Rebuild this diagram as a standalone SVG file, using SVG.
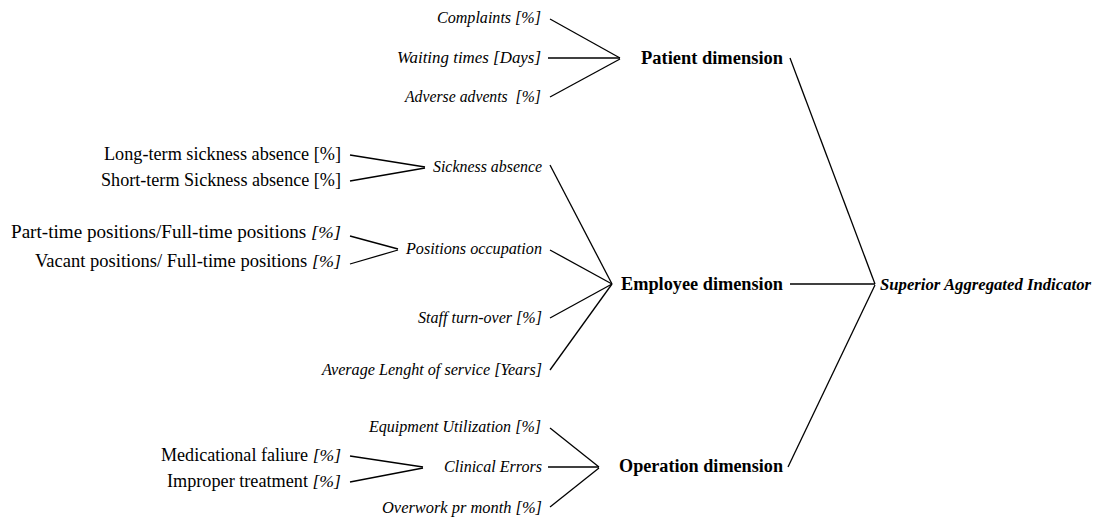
<svg xmlns="http://www.w3.org/2000/svg" width="1099" height="521" viewBox="0 0 1099 521" font-family="'Liberation Serif', 'Times New Roman', 'DejaVu Serif', serif">
<style>
text{font-family:'Liberation Serif','Times New Roman','DejaVu Serif',serif;fill:#000}
.r{font-size:18px}
.i{font-size:17.5px;font-style:italic}
.b{font-size:18.5px;font-weight:bold}
.bi{font-size:16.8px;font-weight:bold;font-style:italic}
.e{text-anchor:end}
.c line{stroke:#000;stroke-width:1.3}
</style>
<rect width="1099" height="521" fill="#fff"/>
<g id="connectors" class="c">
<line x1="550" y1="19" x2="620" y2="58"/>
<line x1="548" y1="58" x2="620" y2="58"/>
<line x1="550" y1="97" x2="620" y2="59"/>
<line x1="350" y1="155" x2="425" y2="167"/>
<line x1="350" y1="181" x2="425" y2="168"/>
<line x1="350" y1="236" x2="398" y2="249"/>
<line x1="350" y1="264" x2="398" y2="250"/>
<line x1="550" y1="165" x2="612" y2="284"/>
<line x1="550" y1="250" x2="612" y2="284"/>
<line x1="550" y1="318" x2="612" y2="284"/>
<line x1="550" y1="370" x2="612" y2="284"/>
<line x1="350" y1="456" x2="423" y2="467"/>
<line x1="350" y1="482" x2="423" y2="468"/>
<line x1="550" y1="428" x2="599" y2="467"/>
<line x1="548" y1="467" x2="599" y2="467"/>
<line x1="550" y1="507" x2="599" y2="468"/>
<line x1="790" y1="58" x2="875" y2="284"/>
<line x1="790" y1="284" x2="875" y2="284"/>
<line x1="788" y1="467" x2="875" y2="285"/>
</g>
<g id="complaints"><text class="i e" x="541" y="23" textLength="104" lengthAdjust="spacingAndGlyphs">Complaints [%]</text></g>
<g id="waiting"><text class="i e" x="541" y="63" textLength="144" lengthAdjust="spacingAndGlyphs">Waiting times [Days]</text></g>
<g id="adverse"><text class="i e" x="541" y="102" xml:space="preserve" textLength="136" lengthAdjust="spacingAndGlyphs">Adverse advents  [%]</text></g>
<g id="patient"><text class="b" x="641" y="64" textLength="142" lengthAdjust="spacingAndGlyphs">Patient dimension</text></g>
<g id="longterm"><text class="r e" x="341" y="160" textLength="237" lengthAdjust="spacingAndGlyphs">Long-term sickness absence [%]</text></g>
<g id="shortterm"><text class="r e" x="341" y="186" textLength="240" lengthAdjust="spacingAndGlyphs">Short-term Sickness absence [%]</text></g>
<g id="sickness"><text class="i e" x="542" y="172" textLength="109" lengthAdjust="spacingAndGlyphs">Sickness absence</text></g>
<g id="parttime"><text class="r e" x="341" y="238" textLength="330" lengthAdjust="spacingAndGlyphs">Part-time positions/Full-time positions <tspan class="i">[%]</tspan></text></g>
<g id="vacant"><text class="r e" x="341" y="267" textLength="306" lengthAdjust="spacingAndGlyphs">Vacant positions/ Full-time positions <tspan class="i">[%]</tspan></text></g>
<g id="positions"><text class="i e" x="542" y="254" textLength="136" lengthAdjust="spacingAndGlyphs">Positions occupation</text></g>
<g id="staff"><text class="i e" x="542" y="323" textLength="124" lengthAdjust="spacingAndGlyphs">Staff turn-over [%]</text></g>
<g id="average"><text class="i e" x="542" y="375" textLength="220" lengthAdjust="spacingAndGlyphs">Average Lenght of service [Years]</text></g>
<g id="employee"><text class="b" x="621" y="290" textLength="162" lengthAdjust="spacingAndGlyphs">Employee dimension</text></g>
<g id="sai"><text class="bi" x="880" y="290" textLength="211" lengthAdjust="spacingAndGlyphs">Superior Aggregated Indicator</text></g>
<g id="equipment"><text class="i e" x="541" y="432" textLength="172" lengthAdjust="spacingAndGlyphs">Equipment Utilization [%]</text></g>
<g id="clinical"><text class="i e" x="542" y="472" textLength="98" lengthAdjust="spacingAndGlyphs">Clinical Errors</text></g>
<g id="overwork"><text class="i e" x="542" y="513" textLength="160" lengthAdjust="spacingAndGlyphs">Overwork pr month [%]</text></g>
<g id="medicational"><text class="r e" x="341" y="461" textLength="180" lengthAdjust="spacingAndGlyphs">Medicational faliure <tspan class="i">[%]</tspan></text></g>
<g id="improper"><text class="r e" x="341" y="487" textLength="174" lengthAdjust="spacingAndGlyphs">Improper treatment <tspan class="i">[%]</tspan></text></g>
<g id="operation"><text class="b" x="619" y="472" textLength="164" lengthAdjust="spacingAndGlyphs">Operation dimension</text></g>
</svg>
